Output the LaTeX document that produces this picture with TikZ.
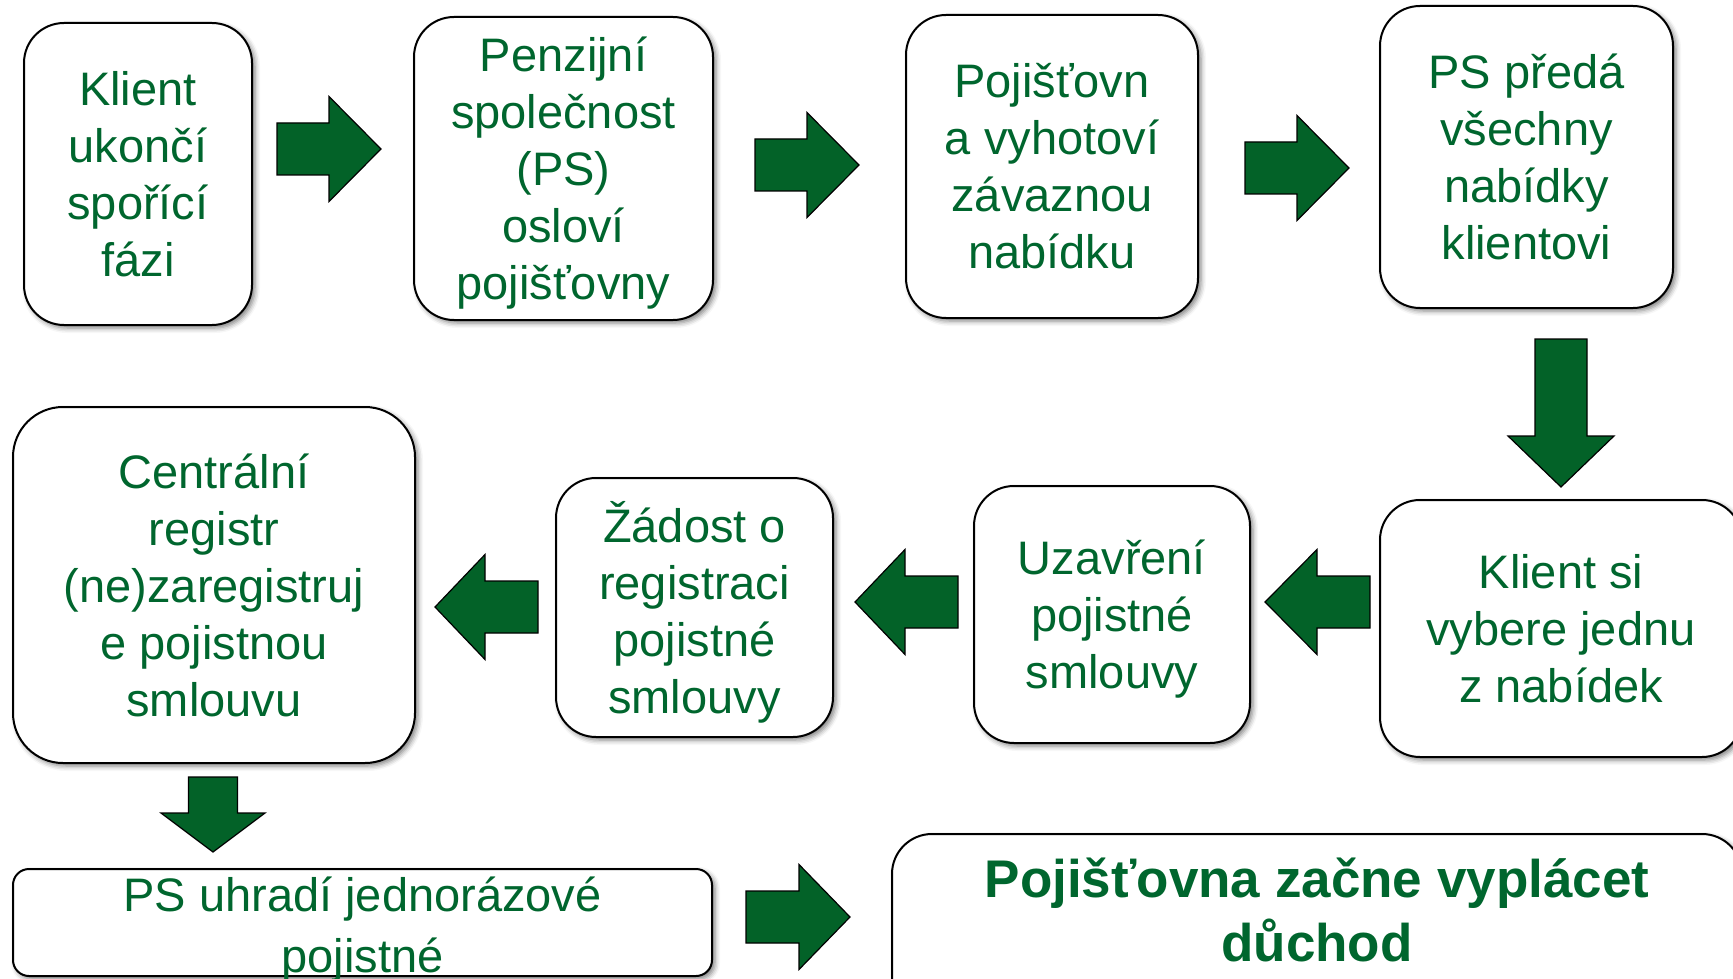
\documentclass[tikz,border=0pt]{standalone}
\usepackage{fontspec}
\setmainfont{Liberation Sans}
\usetikzlibrary{shadows.blur}
\definecolor{txtgreen}{RGB}{0,102,46}
\definecolor{arrowgreen}{RGB}{3,98,40}
\begin{document}
\begin{tikzpicture}[x=1pt,y=-1pt,
  box/.style={draw=black, line width=2pt, fill=white, rounded corners=40pt,
    inner sep=0pt, align=center, text=txtgreen,
    font=\fontsize{47}{57}\selectfont,
    blur shadow={shadow xshift=3pt, shadow yshift=-3pt,
      shadow blur radius=5pt, shadow opacity=50}},
  flat/.style={text depth=0pt},
  boxtext/.style={inner sep=0pt, align=center, text=txtgreen},
  flowarrow/.style={draw=black, line width=1.2pt, fill=arrowgreen, line join=miter},
  pics/blockarrow/.style args={#1/#2/#3/#4}{code={
    \path[flowarrow] (0,-#3) -- (#2,-#3) -- (#2,-#4) -- (#1,0)
      -- (#2,#4) -- (#2,#3) -- (0,#3) -- cycle;}}
]
\useasboundingbox (0,0) rectangle (1733,979);
\clip (0,0) rectangle (1733,979);

% first row
\node[box, minimum width=228, minimum height=302] (b1) at (138,174)
  {Klient\\ukončí\\spořící\\fázi};
\node[box, flat, minimum width=299, minimum height=303] (b2) at (563.5,168.5)
  {Penzijní\\společnost\\(PS)\\osloví\\pojišťovny};
\node[box, minimum width=292, minimum height=303] (b3) at (1052,166.5)
  {Pojišťovn\\a vyhotoví\\závaznou\\nabídku};
\node[box, minimum width=293, minimum height=302] (b4) at (1526.5,157)
  {PS předá\\všechny\\nabídky\\klientovi};

% second row
\node[box, minimum width=362, minimum height=257] (b5) at (1561,628.5)
  {Klient si\\vybere jednu\\z nabídek};
\node[box, flat, minimum width=276, minimum height=257] (b6) at (1112,614.5)
  {Uzavření\\pojistné\\smlouvy};
\node[box, flat, minimum width=277, minimum height=259] (b7) at (694.5,607.5)
  {Žádost o\\registraci\\pojistné\\smlouvy};
\node[box, minimum width=402, minimum height=356, rounded corners=50pt] (b8) at (214,585)
  {Centrální\\registr\\(ne)zaregistruj\\e pojistnou\\smlouvu};

% bottom row
\node[box, minimum width=699, minimum height=107, rounded corners=16pt] (b9) at (362.5,922.5) {};
\node[boxtext, font=\fontsize{47}{61}\selectfont] (t9) at ([yshift=-7pt]b9.center)
  {PS uhradí jednorázové\\pojistné};
\node[box, minimum width=850, minimum height=240, rounded corners=40pt] (b10) at (1317,954) {};
\node[boxtext, font=\bfseries\fontsize{53}{64}\selectfont] (t10) at (1317,910)
  {Pojišťovna začne vyplácet\\důchod};

% block arrows between the steps
\pic at (277,149) {blockarrow=104/52/26/52.5};
\pic at (755,165) {blockarrow=104/52/26/52.5};
\pic at (1245,168) {blockarrow=104/52/26/52.5};
\pic[rotate=-90] at (1561,339) {blockarrow=148/97/26/53};
\pic[rotate=180] at (1370,602) {blockarrow=105/53/26/52.5};
\pic[rotate=180] at (958,602) {blockarrow=103/53/26/52.5};
\pic[rotate=180] at (538,607) {blockarrow=103/53/26/52.5};
\pic[rotate=-90] at (213,777) {blockarrow=75/36/24.5/52};
\pic at (746,917) {blockarrow=104/53/26/52.5};
\end{tikzpicture}
\end{document}
